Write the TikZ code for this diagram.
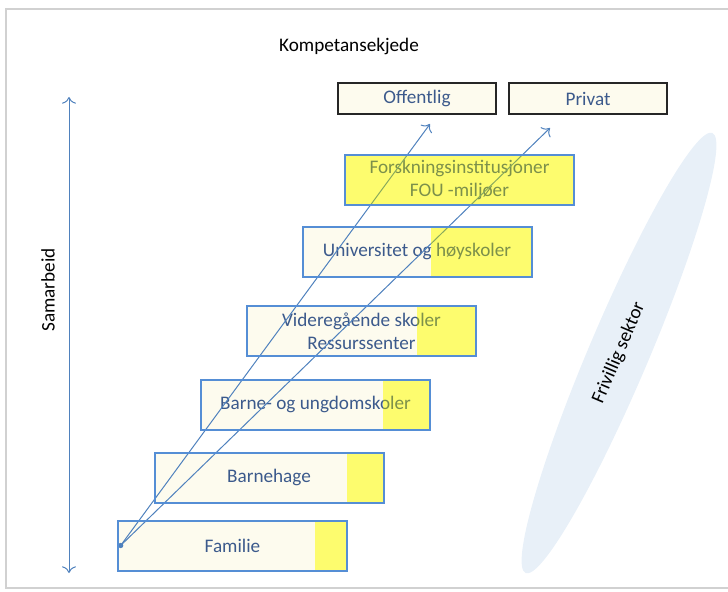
\documentclass[tikz,border=0pt]{standalone}
\usepackage{fontspec}
\setmainfont{Carlito}
\usetikzlibrary{positioning, arrows.meta, shapes.geometric}

\definecolor{stepblue}{RGB}{85,142,213}
\definecolor{txtblue}{RGB}{60,90,140}
\definecolor{cream}{RGB}{253,251,238}
\definecolor{hlyellow}{RGB}{255,255,130}
\definecolor{hlshade}{RGB}{255,255,140}
\definecolor{arrowblue}{RGB}{79,129,189}
\definecolor{sectorblue}{RGB}{232,240,248}

\tikzset{
  stepbox/.style={draw=stepblue, line width=1.5pt, fill=cream, text=txtblue, minimum width=171.75pt, minimum height=37.5pt, inner sep=0pt, outer sep=0pt, align=center},
  topbox/.style={draw=black!85, line width=1.8pt, fill=cream, text=txtblue, minimum width=118.5pt, minimum height=23.25pt, inner sep=0pt, outer sep=0pt},
  hl/.style={fill=hlyellow, fill opacity=0.33},
  hlmul/.style={fill=hlshade},
  rim/.style={draw=stepblue, line width=1.5pt},
  link/.style={arrowblue, line width=0.75pt, -{To[length=5pt]}},
}

\begin{document}
\begin{tikzpicture}[x=0.75pt, y=-0.75pt, font=\fontsize{14.4}{17.5}\selectfont]
    \useasboundingbox (0,0) rectangle (728,592);
    % Frame
    \draw[black!18, line width=1.2pt] (728,9) -- (6,9) -- (6,588) -- (728,588);
    % Title
    \node (kjede) at (349,46) {Kompetansekjede};
    % Top boxes
    \node[topbox] (offentlig) at (417,98.5) {Offentlig};
    \node[topbox, right=9.75pt of offentlig] (privat) {Privat};
    % Steps
    \node[stepbox] (forsk) at (459.5,180) {Forskningsinstitusjoner\\FOU -miljøer};
    \node[stepbox] (uni) at (417,251.5) {Universitet og høyskoler};
    \node[stepbox] (vgs) at (361.5,331) {Videregående skoler\\Ressurssenter};
    \node[stepbox] (barne) at (315.5,404.5) {Barne- og ungdomskoler};
    \node[stepbox] (hage) at (269,477.5) {Barnehage};
    \node[stepbox] (fam) at (232.5,545.5) {Familie};
    % Arrows from Familie
    \coordinate (start) at ([xshift=2pt]fam.west);
    \coordinate (offtip) at (430,124);
    \coordinate (privtip) at (550,128);
    \draw[link] (start) -- (offtip);
    \draw[link] (start) -- (privtip);
    \fill[arrowblue] (start) circle (2pt);
    % Yellow parts
    \fill[hl] (forsk.north west) rectangle (forsk.south east);
    \fill[hl] ([xshift=-75.75pt]uni.north east) rectangle (uni.south east);
    \fill[hl] ([xshift=-44.25pt]vgs.north east) rectangle (vgs.south east);
    \fill[hl] ([xshift=-35.25pt]barne.north east) rectangle (barne.south east);
    \fill[hl] ([xshift=-27.75pt]hage.north east) rectangle (hage.south east);
    \fill[hl] ([xshift=-24pt]fam.north east) rectangle (fam.south east);
    \begin{scope}[blend mode=multiply]
        \fill[hlmul] (forsk.north west) rectangle (forsk.south east);
        \fill[hlmul] ([xshift=-75.75pt]uni.north east) rectangle (uni.south east);
        \fill[hlmul] ([xshift=-44.25pt]vgs.north east) rectangle (vgs.south east);
        \fill[hlmul] ([xshift=-35.25pt]barne.north east) rectangle (barne.south east);
        \fill[hlmul] ([xshift=-27.75pt]hage.north east) rectangle (hage.south east);
        \fill[hlmul] ([xshift=-24pt]fam.north east) rectangle (fam.south east);
    \end{scope}
    % Borders on top
    \draw[rim] (forsk.south west) rectangle (forsk.north east);
    \draw[rim] (uni.south west) rectangle (uni.north east);
    \draw[rim] (vgs.south west) rectangle (vgs.north east);
    \draw[rim] (barne.south west) rectangle (barne.north east);
    \draw[rim] (hage.south west) rectangle (hage.north east);
    \draw[rim] (fam.south west) rectangle (fam.north east);
    % Samarbeid
    \coordinate (samtop) at (69,97);
    \coordinate (sambot) at (69,573);
    \draw[arrowblue, line width=0.75pt, {To[length=5pt]}-{To[length=5pt]}] (sambot) -- (samtop);
    \node[rotate=90] (samarbeid) at (48,290) {Samarbeid};
    % Frivillig sektor
    \node[ellipse, fill=sectorblue, minimum width=358.5pt, minimum height=45pt, inner sep=0pt, rotate=67] (frivillig) at (619,353) {Frivillig sektor};
\end{tikzpicture}
\end{document}
